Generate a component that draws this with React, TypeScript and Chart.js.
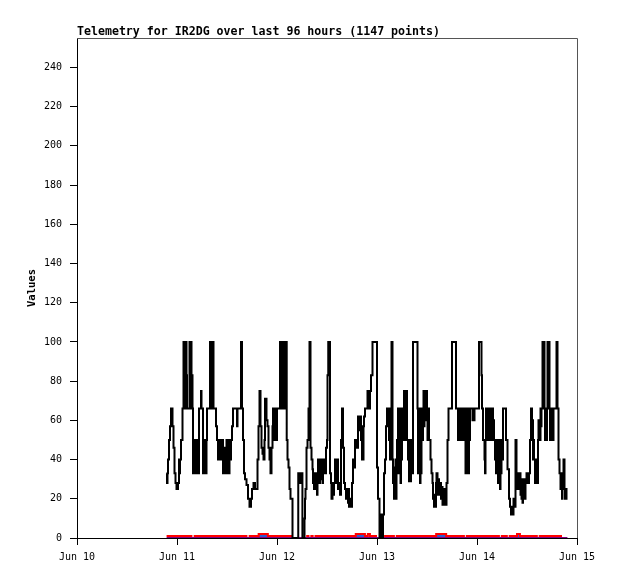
import React, { useEffect, useRef } from "react";
import { Chart, registerables } from "chart.js";

Chart.register(...registerables);

const TITLE = "Telemetry for IR2DG over last 96 hours (1147 points)";
const Y_LABEL = "Values";
const DAY_LABELS = ["Jun 10", "Jun 11", "Jun 12", "Jun 13", "Jun 14", "Jun 15"];
const HOURS_PER_DAY = 24;
const X_MAX_HOURS = 120;
const Y_MAX = 255;
const Y_STEP = 20;

// [hours since Jun 10 00:00, value]
const BLACK_SERIES: [number, number][] = [
  [21.48, 33], [21.6, 28], [21.72, 33], [21.84, 40], [22.08, 50], [22.32, 57], [22.56, 66], [22.92, 57], [23.16, 46], [23.4, 33], [23.64, 28], [23.88, 25],
  [24.24, 28], [24.48, 40], [24.6, 33], [24.72, 40], [24.96, 50], [25.32, 66], [25.56, 100], [25.8, 83], [25.92, 100], [26.04, 66], [26.16, 100], [26.28, 83], [26.4, 66], [27.0, 100], [27.24, 66], [27.36, 100], [27.48, 66], [27.6, 83], [27.72, 66],
  [27.84, 33], [27.96, 50], [28.08, 33], [28.2, 50], [28.32, 33], [28.44, 50], [28.56, 33], [28.68, 50], [28.8, 33], [28.92, 50], [29.04, 33], [29.28, 66], [29.76, 75], [29.88, 66],
  [30.24, 33], [30.36, 50], [30.48, 33], [30.6, 50], [30.72, 33], [30.84, 50], [30.96, 33], [31.08, 50], [31.2, 66], [31.92, 100], [32.04, 66], [32.16, 100], [32.28, 66], [32.4, 100], [32.52, 66], [32.64, 100], [32.76, 66],
  [33.36, 57], [33.6, 50], [33.84, 40], [33.96, 50], [34.08, 40], [34.2, 50], [34.32, 40], [34.44, 46], [34.56, 40], [34.8, 50], [35.04, 33], [35.16, 40], [35.28, 33], [35.52, 46], [35.76, 40], [35.88, 50], [36.0, 33], [36.12, 50], [36.24, 40], [36.36, 50], [36.48, 33], [36.6, 46], [36.72, 40], [36.96, 50], [37.2, 57], [37.44, 66], [38.4, 57], [38.52, 66], [39.36, 100], [39.6, 66], [39.84, 50], [40.08, 33], [40.32, 30], [40.68, 27], [41.04, 20], [41.4, 16], [41.76, 20], [42.0, 25], [42.36, 28], [42.72, 25],
  [43.32, 40], [43.56, 57], [43.8, 75], [44.04, 57], [44.28, 46], [44.52, 43], [44.76, 40], [45.0, 50], [45.12, 71], [45.48, 60], [45.72, 57], [45.96, 46], [46.2, 40], [46.44, 33], [46.68, 46], [46.92, 57], [47.04, 66], [47.16, 50], [47.28, 66], [47.4, 50], [47.52, 66], [47.64, 50], [47.76, 66], [47.88, 50], [48.0, 66],
  [48.72, 100], [48.96, 66], [49.08, 100], [49.2, 66], [49.32, 100], [49.44, 66], [49.56, 100], [49.68, 66], [50.1, 100], [50.33, 50], [50.52, 40], [50.76, 36], [51.0, 25], [51.24, 20], [51.72, 0], [53.1, 33], [53.28, 28], [53.4, 33], [53.64, 28], [53.88, 33], [54.1, 0], [54.6, 10], [54.72, 20], [54.84, 25], [55.08, 46], [55.32, 50], [55.56, 66], [55.8, 100], [56.04, 46], [56.28, 40], [56.52, 35], [56.64, 28], [56.88, 25],
  [57.12, 33], [57.36, 28], [57.6, 22], [57.72, 28], [57.84, 40], [57.96, 33], [58.08, 40], [58.2, 28], [58.32, 40], [58.44, 33], [58.56, 40], [58.68, 30], [58.8, 40], [58.92, 28], [59.04, 33], [59.28, 40], [59.52, 33], [59.76, 46], [60.0, 50], [60.12, 83], [60.3, 100], [60.72, 33], [60.96, 28], [61.08, 20], [61.32, 28], [61.44, 22], [61.68, 28], [61.92, 40], [62.16, 33], [62.4, 28], [62.52, 40], [62.64, 25], [62.88, 28], [63.12, 22], [63.36, 50], [63.6, 66], [63.84, 46], [64.08, 28], [64.32, 25], [64.56, 20], [64.8, 25], [65.04, 18], [65.16, 25], [65.28, 16], [65.52, 20], [65.76, 16], [66.0, 28], [66.24, 40], [66.48, 36], [66.72, 50], [67.2, 46], [67.44, 62], [67.68, 55], [67.92, 62], [68.16, 50], [68.4, 40], [68.52, 57], [68.64, 40], [68.76, 57], [68.88, 62], [69.12, 66], [69.72, 75], [70.08, 66], [70.32, 75], [70.56, 83], [70.92, 100],
  [72.0, 36], [72.24, 20], [72.6, 0], [73.08, 12], [73.2, 0], [73.44, 12], [73.68, 33], [73.92, 40], [74.16, 57], [74.4, 66], [74.88, 50], [75.0, 66], [75.12, 40], [75.24, 66], [75.48, 100], [75.72, 40], [75.84, 28], [75.96, 36], [76.08, 20], [76.2, 33], [76.32, 25], [76.44, 40], [76.56, 20], [76.68, 36], [76.8, 50], [76.92, 33], [77.04, 66], [77.16, 40], [77.28, 66], [77.4, 33], [77.52, 50], [77.64, 28], [77.76, 66], [77.88, 40], [78.0, 50], [78.24, 66], [78.48, 75], [78.6, 50], [78.72, 75], [78.84, 66], [79.08, 75], [79.2, 50], [79.44, 40], [79.56, 50], [79.68, 29], [79.92, 40], [80.04, 29], [80.16, 50], [80.4, 33], [80.64, 100],
  [81.72, 66], [81.84, 33], [81.96, 66], [82.08, 40], [82.2, 66], [82.32, 28], [82.44, 40], [82.56, 33], [82.68, 66], [82.92, 50], [83.04, 66], [83.16, 75], [83.28, 57], [83.4, 75], [83.52, 66], [83.64, 75], [83.76, 60], [83.88, 75], [84.0, 66], [84.12, 50], [84.24, 66], [84.48, 50], [84.84, 40], [85.08, 33], [85.32, 28], [85.44, 20], [85.68, 16], [85.8, 22], [85.92, 16], [86.16, 28], [86.28, 33], [86.52, 22], [86.76, 30], [86.88, 22], [87.12, 28], [87.36, 20], [87.6, 26], [87.72, 17], [87.96, 25], [88.2, 20], [88.44, 17], [88.68, 28], [88.92, 50], [89.16, 66], [90.0, 100],
  [90.96, 66], [91.44, 50], [91.56, 66], [91.68, 50], [91.8, 66], [91.92, 50], [92.04, 66], [92.16, 60], [92.28, 66], [92.52, 50], [92.64, 66], [92.76, 50], [92.88, 66], [93.12, 50], [93.24, 33], [93.36, 50], [93.48, 66], [93.6, 33], [93.72, 50], [93.84, 66], [93.96, 33], [94.08, 50], [94.32, 66], [94.92, 60], [95.04, 66], [95.28, 60], [95.4, 66],
  [96.48, 100], [97.08, 83], [97.2, 66], [97.44, 50], [97.8, 40], [97.92, 33], [98.04, 50], [98.16, 66], [98.28, 50], [98.4, 66], [98.52, 50], [98.64, 66], [98.76, 57], [98.88, 66], [99.0, 50], [99.12, 66], [99.24, 50], [99.36, 66], [99.48, 50], [99.6, 66], [99.84, 50], [99.96, 60], [100.08, 50], [100.32, 40], [100.44, 50], [100.56, 33], [100.68, 50], [100.8, 40], [100.92, 50], [101.04, 28], [101.16, 46], [101.28, 33], [101.4, 50], [101.52, 25], [101.64, 40], [101.76, 33], [101.88, 50], [102.0, 40], [102.24, 66], [102.96, 50], [103.32, 35], [103.68, 20], [103.92, 16], [104.16, 12], [104.4, 16], [104.52, 12], [104.76, 20], [105.0, 16], [105.24, 50], [105.48, 33], [105.72, 25], [105.84, 33], [106.08, 25], [106.32, 33], [106.44, 22], [106.56, 28], [106.68, 20], [106.8, 30], [106.92, 18], [107.04, 28], [107.16, 22], [107.28, 30], [107.52, 20], [107.64, 28], [107.88, 33], [108.24, 28], [108.48, 33],
  [108.72, 50], [108.96, 66], [109.2, 50], [109.32, 60], [109.44, 40], [109.56, 50], [109.68, 40], [109.92, 28], [110.04, 40], [110.16, 33], [110.28, 40], [110.4, 28], [110.64, 50], [110.76, 60], [110.88, 50], [111.0, 60], [111.12, 50], [111.24, 66], [111.36, 57], [111.48, 66], [111.72, 100], [112.2, 66], [112.32, 50], [112.44, 66], [112.56, 50], [112.8, 66], [112.92, 100], [113.4, 66], [113.52, 50], [113.64, 66], [113.76, 50], [113.88, 66], [114.0, 50], [114.12, 66], [114.24, 50], [114.36, 66], [115.08, 100], [115.32, 66], [115.56, 40], [115.8, 33], [116.04, 25], [116.16, 33], [116.28, 25], [116.4, 20], [116.52, 33], [116.76, 40], [117.0, 25], [117.12, 20], [117.24, 25], [117.36, 20], [117.48, 25], [117.72, 25],
];

const RED_SERIES: [number, number | null][] = [
  [21.5, 1], [27.7, 1], [27.8, null], [28.0, 1], [40.9, 1], [41.0, null], [41.2, 1], [43.6, 2], [45.8, 1], [51.6, 1], [51.7, null],
  [55.0, 1], [55.8, 1], [55.9, null], [56.0, 1], [56.8, 1], [56.9, null], [57.0, 1], [66.9, 2], [69.1, 1], [69.8, 2], [70.3, 1], [72.0, 1], [72.1, null],
  [73.7, 1], [76.3, 1], [76.4, null], [76.5, 1], [86.2, 2], [88.6, 1], [93.1, 1], [93.2, null], [93.3, 1], [101.5, 1], [101.6, null], [101.7, 1],
  [103.4, 1], [103.5, null], [103.6, 1], [105.6, 2], [106.3, 1], [110.6, 1], [110.7, null], [110.8, 1], [116.4, 1],
];

const BLUE_SERIES: [number, number | null][] = [
  [43.6, 1], [45.8, 1], [45.9, null], [66.9, 1], [69.3, 1], [69.4, null], [86.2, 1], [88.6, 1], [88.7, null], [105.6, 1], [106.3, 1],
];

const PURPLE_SERIES: [number, number][] = [
  [21.5, 0], [117.7, 0],
];

const toPoints = (s: [number, number | null][]) => s.map(([x, y]) => ({ x, y }));

const MONO = '"DejaVu Sans Mono", "Liberation Mono", monospace';

const framePlugin = {
  id: "frameAndLabels",
  afterDatasetsDraw(chart: any) {
    const { ctx, chartArea: a } = chart;
    ctx.save();
    ctx.strokeStyle = "#555555";
    ctx.lineWidth = 1;
    ctx.beginPath();
    ctx.moveTo(a.left, Math.round(a.top) + 0.5);
    ctx.lineTo(Math.round(a.right) + 0.5, Math.round(a.top) + 0.5);
    ctx.lineTo(Math.round(a.right) + 0.5, a.bottom);
    ctx.stroke();
    ctx.fillStyle = "#000";
    ctx.font = `bold 11.6px ${MONO}`;
    ctx.textAlign = "left";
    ctx.textBaseline = "alphabetic";
    ctx.fillText(TITLE, a.left, a.top - 3);
    ctx.translate(32, (a.top + a.bottom) / 2);
    ctx.rotate(-Math.PI / 2);
    ctx.textAlign = "center";
    ctx.textBaseline = "middle";
    ctx.font = `bold 10.5px ${MONO}`;
    ctx.fillText(Y_LABEL, 0, 0);
    ctx.restore();
  },
};

export default function App() {
  const ref = useRef<HTMLCanvasElement | null>(null);
  useEffect(() => {
    if (!ref.current) return;
    const chart = new Chart(ref.current, {
      type: "line",
      data: {
        datasets: [
          {
            label: "black",
            data: toPoints(BLACK_SERIES),
            borderColor: "#000000",
            borderWidth: 2,
            pointRadius: 0,
            stepped: true,
            order: 0,
          },
          {
            label: "red",
            data: toPoints(RED_SERIES),
            borderColor: "#ff0000",
            borderWidth: 2,
            pointRadius: 0,
            stepped: true,
            spanGaps: false,
            order: 1,
          },
          {
            label: "blue",
            data: toPoints(BLUE_SERIES),
            borderColor: "#2a5bd0",
            borderWidth: 2,
            pointRadius: 0,
            stepped: true,
            spanGaps: false,
            order: 2,
          },
          {
            label: "purple",
            data: toPoints(PURPLE_SERIES),
            borderColor: "#800080",
            borderWidth: 2,
            pointRadius: 0,
            stepped: true,
            order: 3,
          },
        ],
      },
      options: {
        animation: false,
        responsive: false,
        devicePixelRatio: 1,
        events: [],
        layout: { padding: { top: 38, right: 41, left: 0, bottom: 0 } },
        plugins: { legend: { display: false }, tooltip: { enabled: false }, title: { display: false } },
        scales: {
          x: {
            type: "linear",
            min: 0,
            max: X_MAX_HOURS,
            afterFit: (s: any) => { s.height = 41; },
            border: { display: true, color: "#000", width: 1 },
            grid: { drawOnChartArea: false, drawTicks: true, tickLength: 7, color: "#000", lineWidth: 1 },
            ticks: {
              stepSize: HOURS_PER_DAY,
              autoSkip: false,
              maxRotation: 0,
              padding: 6,
              color: "#000",
              font: { family: MONO, size: 10 },
              callback: (v: any) => DAY_LABELS[Math.round(Number(v) / HOURS_PER_DAY)] ?? "",
            },
          },
          y: {
            type: "linear",
            min: 0,
            max: Y_MAX,
            afterFit: (s: any) => { s.width = 77; },
            border: { display: true, color: "#000", width: 1 },
            grid: { drawOnChartArea: false, drawTicks: true, tickLength: 7, color: "#000", lineWidth: 1 },
            ticks: {
              stepSize: Y_STEP,
              includeBounds: false,
              padding: 8,
              color: "#000",
              font: { family: MONO, size: 10 },
            },
          },
        },
      },
      plugins: [framePlugin],
    });
    return () => chart.destroy();
  }, []);
  return (
    <div style={{ position: "absolute", left: 0, top: 0, width: 618, height: 579, background: "#fff" }}>
      <canvas ref={ref} width={618} height={579} style={{ display: "block" }} />
    </div>
  );
}
